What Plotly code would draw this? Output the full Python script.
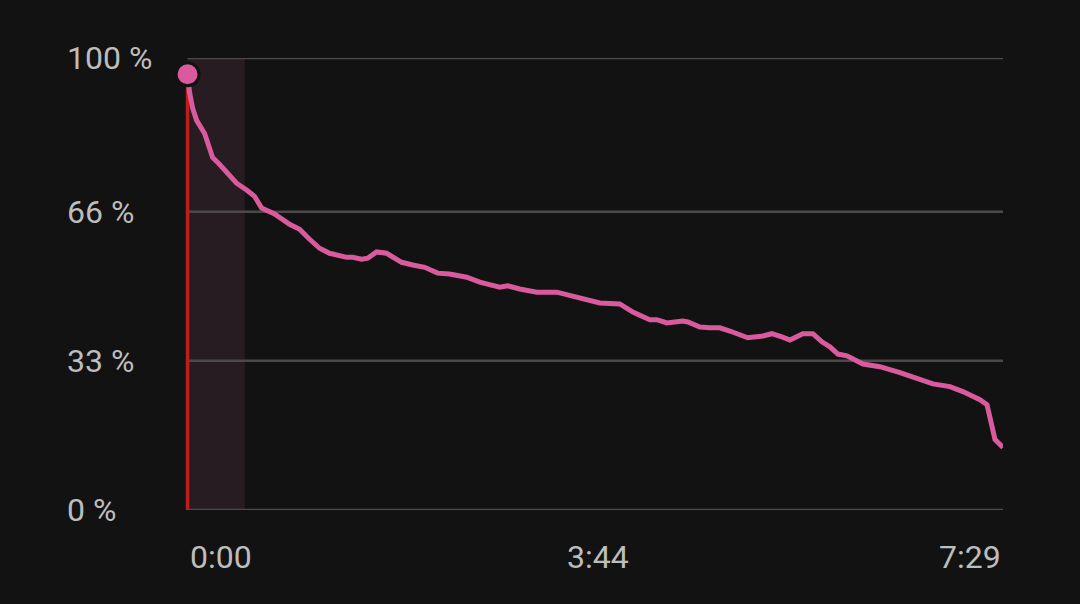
import plotly.graph_objects as go

# time in seconds, battery/percent values
t_sec = [0, 1.1, 2.8, 5.0, 9.4, 13.8, 17.6, 23.1, 27.0, 32.5, 36.9, 40.8, 47.9, 56.2, 61.7,
         67.2, 72.7, 78.2, 87.6, 90.9, 95.9, 99.2, 104.1, 109.6, 117.9, 124.0, 130.6, 137.7,
         144.3, 153.7, 160.9, 171.9, 176.3, 182.9, 192.3, 203.3, 208.8, 214.3, 227.0, 238.0,
         245.2, 254.5, 258.4, 263.9, 272.7, 275.5, 282.1, 287.6, 293.1, 298.6, 308.5, 316.8,
         321.7, 327.3, 331.7, 338.8, 344.3, 349.3, 353.7, 358.1, 363.1, 371.9, 381.2, 392.3,
         403.3, 410.4, 419.8, 426.9, 436.3, 440.2, 444.6, 449.0]
pct = [96.4, 92.4, 88.9, 86.2, 83.3, 78.0, 76.5, 73.8, 72.3, 70.8, 69.4, 66.8, 65.5, 63.2, 62.1,
       59.9, 57.9, 56.8, 55.9, 55.9, 55.5, 55.7, 57.1, 56.8, 54.8, 54.2, 53.7, 52.4,
       52.2, 51.5, 50.4, 49.3, 49.6, 48.9, 48.2, 48.2, 47.6, 47.1, 45.8, 45.6,
       43.8, 42.1, 42.1, 41.4, 41.8, 41.6, 40.5, 40.3, 40.3, 39.6, 38.1, 38.5,
       39.0, 38.3, 37.6, 39.0, 39.0, 37.2, 36.1, 34.5, 34.1, 32.3, 31.7, 30.4,
       28.8, 27.9, 27.3, 26.2, 24.4, 23.3, 15.6, 13.8]

y_tick_vals = [0, 33, 66, 100]
y_tick_text = ["0 %", "33 %", "66 %", "100 %"]
x_tick_vals = [0, 224.5, 449]
x_tick_text = ["0:00", "3:44", "7:29"]
x_tick_anchor = ["left", "center", "right"]
x_max = 449
x_min = -2.5
highlight_end = 31.5

BG = "#121212"
PINK = "#d95a9d"
TXT = "#bdbdbd"
FONT = "Roboto"

# layout geometry (pixels)
x0_px, x1_px = 188, 1003
px_per_s = (x1_px - x0_px) / x_max
left_margin = x0_px + x_min * px_per_s
plot_w = x1_px - left_margin

fig = go.Figure()

fig.add_shape(type="rect", xref="x", yref="paper", x0=0, x1=highlight_end, y0=0, y1=1,
              fillcolor="#271c21", line_width=0, layer="below")

for v in y_tick_vals:
    fig.add_shape(type="line", xref="x", yref="y", x0=0, x1=x_max, y0=v, y1=v,
                  line=dict(color="#4a4a4a", width=2.5), layer="below")

fig.add_trace(go.Scatter(x=[t_sec[0], t_sec[0]], y=[0, pct[0]], mode="lines",
                         line=dict(color="#bd1e18", width=3.5), hoverinfo="skip"))
fig.add_trace(go.Scatter(x=t_sec, y=pct, mode="lines",
                         line=dict(color=PINK, width=5), cliponaxis=False))
fig.add_trace(go.Scatter(x=[t_sec[0]], y=[pct[0]], mode="markers",
                         marker=dict(color=PINK, size=23, line=dict(color="#111111", width=3)),
                         cliponaxis=False))

for v, txt in zip(y_tick_vals, y_tick_text):
    fig.add_annotation(x=(66 - left_margin) / plot_w, xref="paper", y=v, yref="y", text=txt,
                       showarrow=False, xanchor="left", yanchor="middle",
                       font=dict(family=FONT, size=32, color=TXT))

for v, txt, anc in zip(x_tick_vals, x_tick_text, x_tick_anchor):
    fig.add_annotation(x=v, xref="x", y=-47 / 452, yref="paper", text=txt, showarrow=False,
                       xanchor=anc, yanchor="middle", xshift=3 if anc == "center" else 0,
                       font=dict(family=FONT, size=32, color=TXT))

fig.update_layout(
    width=1080, height=604,
    margin=dict(l=left_margin, r=1080 - x1_px, t=58, b=94, pad=0),
    paper_bgcolor=BG, plot_bgcolor=BG,
    showlegend=False,
    xaxis=dict(range=[x_min, x_max], showgrid=False, zeroline=False, showticklabels=False,
               showline=False, fixedrange=True),
    yaxis=dict(range=[0, 100], showgrid=False, showticklabels=False,
               zeroline=False, showline=False, fixedrange=True),
)

fig.write_html("out.html", config={"displayModeBar": False},
               post_script="document.body.style.margin='0';document.body.style.overflow='hidden';")
